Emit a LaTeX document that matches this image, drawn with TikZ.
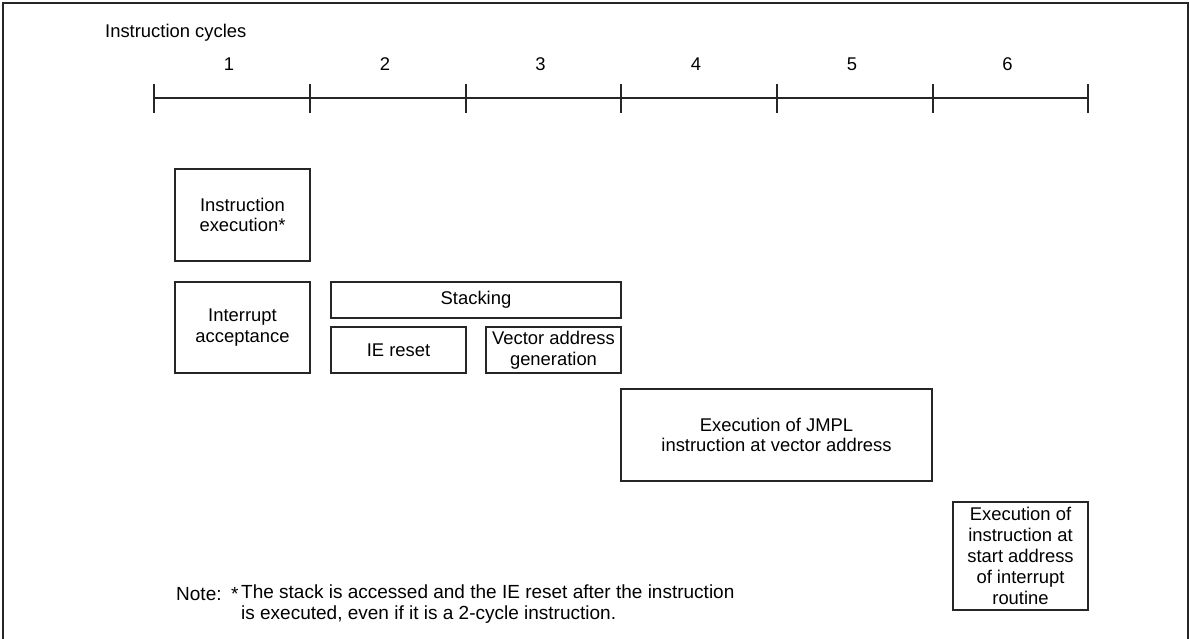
\documentclass[tikz,border=0pt]{standalone}
\usepackage{fontspec}
\setmainfont{Liberation Sans}
\usetikzlibrary{calc}
\begin{document}
\begin{tikzpicture}[x=1pt,y=-1pt,
  every node/.style={font=\fontsize{18.4}{20.6}\selectfont, inner sep=0pt},
  box/.style={draw=black!85, line width=1.2pt, align=center},
  tick/.style={line width=1.6pt, black!85},
  notefont/.style={font=\fontsize{19}{20.6}\selectfont}]
\useasboundingbox (0,0) rectangle (1190,639);
% frame
\draw[line width=1.5pt, black!85] (3,639) -- (3,3) -- (1188,3) -- (1188,639);
% time axis
\foreach \i/\x in {0/154,1/310,2/466,3/621,4/777,5/933,6/1088}{
  \coordinate (t\i) at (\x,98);
  \draw[tick] (\x,84) -- (\x,113);
}
\draw[tick] (t0) -- (t6);
\node[anchor=west] (title) at (105,33) {Instruction cycles};
\foreach \n/\a/\b in {1/0/1,2/1/2,3/2/3,4/3/4,5/4/5,6/5/6}{
  \node (c\n) at ($(t\a)!0.5!(t\b) + (-3,-34)$) {\n};
}
% boxes
\node[box, minimum width=135pt, minimum height=92pt] (ie) at (242.5,215) {Instruction\\execution*};
\node[box, minimum width=135pt, minimum height=91pt] (ia) at (242.5,327.5) {Interrupt\\acceptance};
\node[box, minimum width=290pt, minimum height=36pt] (stk) at (476,300) {Stacking};
\node[box, minimum width=135pt, minimum height=46pt] (ier) at (398.5,350) {IE reset};
\node[box, minimum width=135pt, minimum height=46pt] (vag) at (553.5,350) {Vector address\\generation};
\node[box, minimum width=311pt, minimum height=92pt] (jmpl) at (776.5,435) {Execution of JMPL\\instruction at vector address};
\node[box, minimum width=135pt, minimum height=108pt, font=\fontsize{18.4}{21.2}\selectfont] (exs) at (1020.5,556) {Execution of\\instruction at\\start address\\of interrupt\\routine};
% note
\node[anchor=west, notefont] (note) at (176,594) {Note:};
\node[anchor=west, notefont] (star) at (231,594) {*};
\node[anchor=west, align=left, notefont] (notetext) at (241,604) {The stack is accessed and the IE reset after the instruction\\is executed, even if it is a 2-cycle instruction.};
\end{tikzpicture}
\end{document}
